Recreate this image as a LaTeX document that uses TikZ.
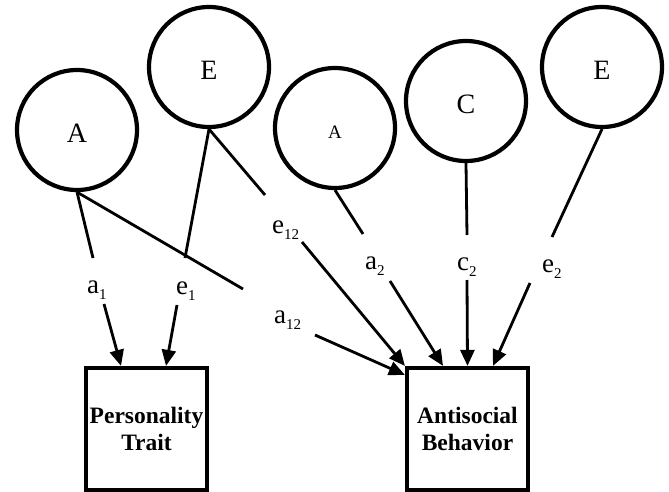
\documentclass[tikz,border=0pt]{standalone}
\usepackage{fontspec}
\setmainfont{Liberation Serif}
\usetikzlibrary{arrows.meta}
\newcommand\lsb[1]{\raisebox{-6pt}{\fontsize{15}{15}\selectfont #1}}
\begin{document}
\begin{tikzpicture}[x=1pt,y=-1pt,
  latent/.style={circle,draw,line width=4.2pt,minimum size=120pt,inner sep=0pt,font=\fontsize{28}{28}\selectfont,text height=25pt,text depth=0pt},
  observed/.style={rectangle,draw,line width=4.2pt,minimum width=121pt,minimum height=122pt,inner sep=0pt,align=center,font=\fontsize{23.5}{27}\selectfont\bfseries},
  lbl/.style={anchor=base west,inner sep=0pt,font=\fontsize{27}{27}\selectfont},
  conn/.style={line width=2.8pt},
  arr/.style={conn,-{Triangle[length=16pt,width=14pt]}}]
\useasboundingbox (0,0) rectangle (669,492);
% latent factors
\node[latent] (A1) at (77,130) {A};
\node[latent] (E1) at (209,67) {E};
\node[latent,font=\fontsize{19}{19}\selectfont,text height=21pt] (A2) at (335,128) {A};
\node[latent] (C2) at (466,101) {C};
\node[latent] (E2) at (602,67) {E};
% observed
\node[observed] (PT) at (146.5,429) {Personality\\Trait};
\node[observed] (AB) at (467.5,429) {Antisocial\\Behavior};
% labels
\node[lbl] (la1) at (87,293) {a\lsb{1}};
\node[lbl] (le1) at (176,294) {e\lsb{1}};
\node[lbl] (le12) at (272,233) {e\lsb{12}};
\node[lbl] (la12) at (274,323) {a\lsb{12}};
\node[lbl] (la2) at (365,269) {a\lsb{2}};
\node[lbl] (lc2) at (457,270) {c\lsb{2}};
\node[lbl] (le2) at (542,272) {e\lsb{2}};
% lines from factors to labels
\draw[conn] (A1.south) -- ([shift={(6,-35)}]la1.base west);
\draw[conn] (A1.south) -- ([shift={(-31,-34)}]la12.base west);
\draw[conn] (E1.south) -- ([shift={(9,-36)}]le1.base west);
\draw[conn] (E1.south) -- ([shift={(-7,-38)}]le12.base west);
\draw[conn] (A2.south) -- ([shift={(-2,-35)}]la2.base west);
\draw[conn] (C2.south) -- ([shift={(10,-35)}]lc2.base west);
\draw[conn] (E2.south) -- ([shift={(10,-35)}]le2.base west);
% arrows from labels to observed
\draw[arr] ([shift={(17,11)}]la1.base west) -- ([xshift=-25.5pt]PT.north);
\draw[arr] ([shift={(1,11)}]le1.base west) -- ([xshift=19.5pt]PT.north);
\draw[arr] ([shift={(30,9)}]le12.base west) -- (AB.north west);
\draw[arr] ([shift={(41,12)}]la12.base west) -- ([shift={(0,9)}]AB.north west);
\draw[arr] ([shift={(25,12)}]la2.base west) -- ([xshift=-24.5pt]AB.north);
\draw[arr] ([shift={(10,10)}]lc2.base west) -- (AB.north);
\draw[arr] ([shift={(-12,11)}]le2.base west) -- ([xshift=25.5pt]AB.north);
\end{tikzpicture}
\end{document}
